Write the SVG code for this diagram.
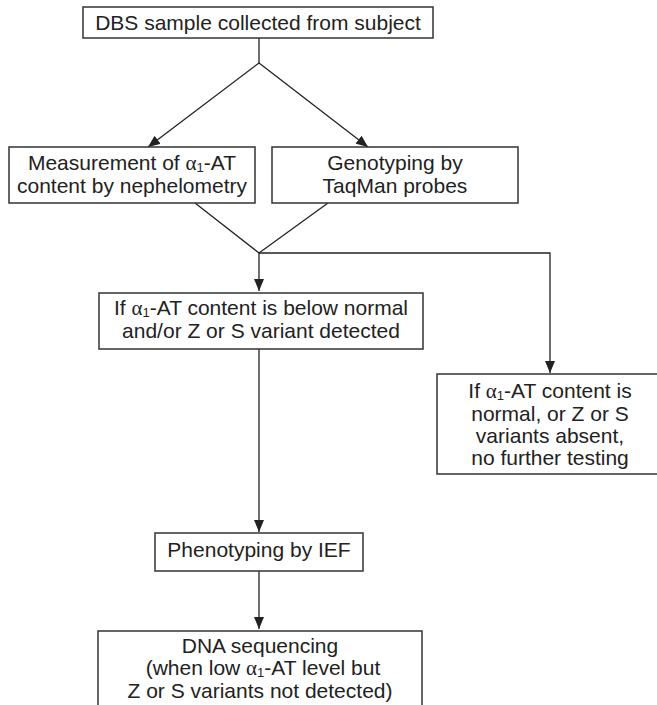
<svg xmlns="http://www.w3.org/2000/svg" width="657" height="705" viewBox="0 0 657 705">
<style>
.box{fill:#fff;stroke:#333;stroke-width:1.5}
.t{font-family:"Liberation Sans",Arial,sans-serif;font-size:21px;fill:#222;text-anchor:middle}
.a{font-family:"Liberation Serif","Times New Roman",serif;font-size:21px}
.s{font-size:13px}
.c{fill:none;stroke:#222;stroke-width:1.3}
</style>
<defs>
<marker id="ah" viewBox="0 0 12 10" refX="12" refY="5" markerWidth="12" markerHeight="10" markerUnits="userSpaceOnUse" orient="auto">
<path d="M0,0 L12,5 L0,10 Z" fill="#222"/>
</marker>
</defs>
<rect width="657" height="705" fill="#fff"/>
<g id="connectors">
<path class="c" d="M259,38 V63"/>
<path class="c" d="M259,63 L148,147" marker-end="url(#ah)"/>
<path class="c" d="M259,63 L368,147" marker-end="url(#ah)"/>
<path class="c" d="M195,203 L259,253 L328,203"/>
<path class="c" d="M259,253 V291" marker-end="url(#ah)"/>
<path class="c" d="M259,253 H550 V373" marker-end="url(#ah)"/>
<path class="c" d="M259,349 V532" marker-end="url(#ah)"/>
<path class="c" d="M259,571 V629" marker-end="url(#ah)"/>
</g>
<g id="n1">
<rect class="box" x="83" y="7" width="350" height="31"/>
<text class="t" x="258" y="30">DBS sample collected from subject</text>
</g>
<g id="n2">
<rect class="box" x="9" y="147" width="246" height="56"/>
<text class="t" x="132" y="170">Measurement of <tspan class="a">α</tspan><tspan class="s" dy="2">1</tspan><tspan dy="-2">-AT</tspan><tspan x="132" dy="23">content by nephelometry</tspan></text>
</g>
<g id="n3">
<rect class="box" x="272" y="147" width="246" height="56"/>
<text class="t" x="395" y="170">Genotyping by<tspan x="395" dy="23">TaqMan probes</tspan></text>
</g>
<g id="n4">
<rect class="box" x="99" y="293" width="324" height="56"/>
<text class="t" x="261" y="315">If <tspan class="a">α</tspan><tspan class="s" dy="2">1</tspan><tspan dy="-2">-AT content is below normal</tspan><tspan x="261" dy="23">and/or Z or S variant detected</tspan></text>
</g>
<g id="n5">
<rect class="box" x="437" y="374" width="228" height="100"/>
<text class="t" x="550" y="398">If <tspan class="a">α</tspan><tspan class="s" dy="2">1</tspan><tspan dy="-2">-AT content is</tspan><tspan x="550" dy="23">normal, or Z or S</tspan><tspan x="550" dy="22">variants absent,</tspan><tspan x="550" dy="22">no further testing</tspan></text>
</g>
<g id="n6">
<rect class="box" x="155" y="533" width="208" height="38"/>
<text class="t" x="259" y="557">Phenotyping by IEF</text>
</g>
<g id="n7">
<rect class="box" x="98" y="631" width="324" height="90"/>
<text class="t" x="260" y="653">DNA sequencing<tspan x="263" dy="22">(when low <tspan class="a">α</tspan><tspan class="s" dy="2">1</tspan><tspan dy="-2">-AT level but</tspan></tspan><tspan x="260" dy="23">Z or S variants not detected)</tspan></text>
</g>
</svg>
